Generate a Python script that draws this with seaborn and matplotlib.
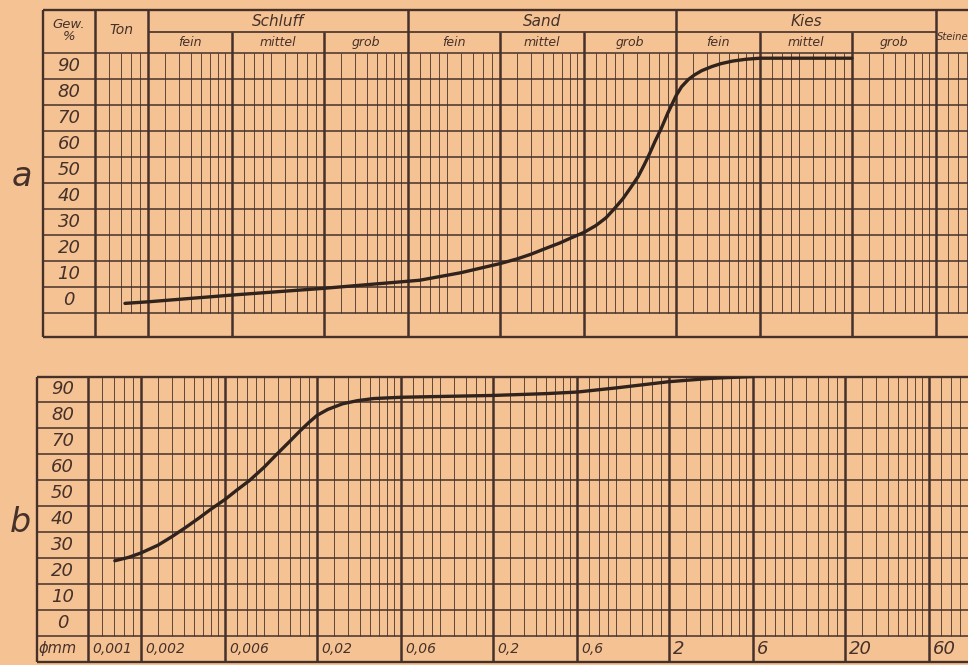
import numpy as np
import matplotlib
matplotlib.use("Agg")
import matplotlib.pyplot as plt
from matplotlib.transforms import offset_copy
import seaborn as sns

# grain-size class boundaries in mm, left to right
boundaries = [0.001, 0.002, 0.006, 0.02, 0.06, 0.2, 0.6, 2, 6, 20, 60]
boundary_labels = ["0,001", "0,002", "0,006", "0,02", "0,06", "0,2", "0,6",
                   "2", "6", "20", "60"]
main_classes = ["Schluff", "Sand", "Kies"]
sub_classes = ["fein", "mittel", "grob"]
pct_labels = [90, 80, 70, 60, 50, 40, 30, 20, 10, 0]

# grading curve a (sandy soil)
size_a = [0.00148, 0.002, 0.006, 0.02, 0.07, 0.12, 0.2, 0.25, 0.3, 0.35, 0.44,
          0.5, 0.6, 0.7, 0.8, 0.89, 1.0, 1.1, 1.22, 1.32, 1.41, 1.52, 1.65,
          1.8, 2.0, 2.15, 2.35, 2.55, 2.8, 3.2, 3.6, 4.2, 5.0, 6.0, 20]
pct_a = [3.7, 4.3, 6.9, 9.5, 12.6, 15.5, 19.0, 20.8, 22.6, 24.4, 27.0,
         28.7, 31.0, 33.6, 36.6, 40.0, 44.0, 48.0, 52.5, 57.0, 61.0, 66.0, 71.0,
         77.0, 83.5, 87.0, 89.8, 91.6, 93.2, 94.8, 95.9, 96.9, 97.6, 98.0, 98.0]

# grading curve b (silty soil)
size_b = [0.00142, 0.0017, 0.002, 0.0025, 0.003, 0.0036, 0.0043, 0.005, 0.006,
          0.007, 0.0083, 0.01, 0.0118, 0.014, 0.016, 0.018, 0.02, 0.023, 0.028,
          0.034, 0.042, 0.06, 0.1, 0.2, 0.4, 0.6, 1.0, 2.0, 3.5, 6.0]
pct_b = [29.0, 30.3, 32.0, 35.0, 38.3, 41.9, 45.6, 48.9, 52.6,
         56.2, 60.0, 65.0, 70.0, 75.0, 79.0, 82.3, 85.0, 87.3, 89.5,
         90.7, 91.5, 92.0, 92.3, 92.7, 93.4, 94.0, 95.6, 98.0, 99.3, 100.0]

# thin ruling inside a class cell, as multiples of the cell's lower bound
minor_x2 = [1.2, 1.4, 1.6, 1.8]
minor_x3 = [1.25, 1.5, 1.75, 2, 2.25, 2.5, 2.75]
minor_x33 = [7 / 6, 8 / 6, 9 / 6, 10 / 6, 2, 14 / 6, 16 / 6, 3]

PAPER = "#f5c393"
INK = "#45302a"
CURVE = "#30221c"
W, H = 968, 665
PPD = 176.0  # pixels per decade on the sheet


def minor_lines():
    cells = boundaries + [200]
    xs = []
    for lo, hi in zip(cells[:-1], cells[1:]):
        r = hi / lo
        mult = minor_x2 if r < 2.5 else (minor_x3 if r < 3.1 else minor_x33)
        xs += [lo * m for m in mult]
    return xs


def make_axes(fig, left, zero_px, right, top, bottom, ymin, ymax):
    ax = fig.add_axes([left / W, 1 - bottom / H, (right - left) / W, (bottom - top) / H])
    ax.set_xscale("log")
    xlim = (0.001 * 10 ** ((left - zero_px) / PPD), 0.001 * 10 ** ((right - zero_px) / PPD))
    ax.set_facecolor("none")
    return ax, xlim, (ymin, ymax)


def finish(ax, xlim, ylim):
    ax.set_xlim(*xlim)
    ax.set_ylim(*ylim)
    ax.axis("off")


def rows(ax, xlim, ylim):
    x0, x1 = xlim
    ax.hlines(list(range(0, 101, 10)), x0, x1, color=INK, lw=1.1, clip_on=False)
    ax.hlines(list(ylim), x0, x1, color=INK, lw=1.7, clip_on=False)
    ax.vlines(x0, ylim[0], ylim[1], color=INK, lw=1.7, clip_on=False)
    ax.vlines(minor_lines(), 0, 100, color=INK, lw=0.7, alpha=0.85)
    label_x = np.sqrt(x0 * boundaries[0])
    for v in pct_labels:
        ax.text(label_x, v + 5, str(v), ha="center", va="center", fontsize=13,
                style="italic", color=INK)


sns.set_style("white")
plt.rcParams["font.family"] = ["DejaVu Sans"]

fig = plt.figure(figsize=(W / 100, H / 100), dpi=100)
fig.patch.set_facecolor(PAPER)

# ---------------- panel a ----------------
pa = 2.6  # px per percent
ax_a, xlim_a, ylim_a = make_axes(fig, 43, 95, 1000, 10, 337,
                                 -(337 - 313) / pa, 100 + (53 - 10) / pa)
split = 100 + (53 - 32) / pa
rows(ax_a, xlim_a, ylim_a)
class_edges = [boundaries[i] for i in (0, 1, 4, 7, 10)]
sub_edges = [b for b in boundaries if b not in class_edges]
ax_a.vlines(class_edges, ylim_a[0], ylim_a[1], color=INK, lw=1.8, clip_on=False)
ax_a.vlines(sub_edges, ylim_a[0], split, color=INK, lw=1.8)
ax_a.hlines(split, boundaries[1], boundaries[10], color=INK, lw=1.2)

for i, name in enumerate(main_classes):
    lo, hi = boundaries[1 + 3 * i], boundaries[4 + 3 * i]
    ax_a.text(np.sqrt(lo * hi), (split + ylim_a[1]) / 2, name, ha="center",
              va="center", fontsize=11, style="italic", color=INK)
    for j, sub in enumerate(sub_classes):
        lo, hi = boundaries[1 + 3 * i + j], boundaries[2 + 3 * i + j]
        ax_a.text(np.sqrt(lo * hi), (100 + split) / 2, sub, ha="center",
                  va="center", fontsize=9, style="italic", color=INK)
ax_a.text(np.sqrt(xlim_a[0] * boundaries[0]), 108.5, "Gew.\n%", ha="center",
          va="center", fontsize=9.5, style="italic", color=INK, linespacing=0.9)
ax_a.text(np.sqrt(boundaries[0] * boundaries[1]), 109, "Ton", ha="center",
          va="center", fontsize=10, style="italic", color=INK)
ax_a.text(boundaries[10], 106, "Steine", ha="left", va="center", fontsize=7.2,
          style="italic", color=INK,
          transform=offset_copy(ax_a.transData, fig, x=1, units="dots"))

sns.lineplot(x=size_a, y=pct_a, ax=ax_a, color=CURVE, linewidth=2.4)
finish(ax_a, xlim_a, ylim_a)

# ---------------- panel b ----------------
pb = 2.595
ax_b, xlim_b, ylim_b = make_axes(fig, 37, 88, 1000, 376.5, 662,
                                 -(662 - 636) / pb, 100)
rows(ax_b, xlim_b, ylim_b)
ax_b.vlines(boundaries, ylim_b[0], ylim_b[1], color=INK, lw=1.8, clip_on=False)
shift = offset_copy(ax_b.transData, fig, x=4, units="dots")
for b, lab in zip(boundaries, boundary_labels):
    ax_b.text(b, ylim_b[0] / 2, lab, ha="left", va="center",
              fontsize=10 if "," in lab else 13, style="italic", color=INK,
              transform=shift)
ax_b.text(xlim_b[0], ylim_b[0] / 2, "ϕmm", ha="left", va="center", fontsize=10.5,
          style="italic", color=INK,
          transform=offset_copy(ax_b.transData, fig, x=2, units="dots"))

sns.lineplot(x=size_b, y=pct_b, ax=ax_b, color=CURVE, linewidth=2.4)
finish(ax_b, xlim_b, ylim_b)

fig.text(12 / W, 1 - 176 / H, "a", fontsize=24, style="italic", color=INK,
         ha="left", va="center")
fig.text(10 / W, 1 - 522 / H, "b", fontsize=24, style="italic", color=INK,
         ha="left", va="center")

fig.savefig("out.png", dpi=100, facecolor=PAPER)
